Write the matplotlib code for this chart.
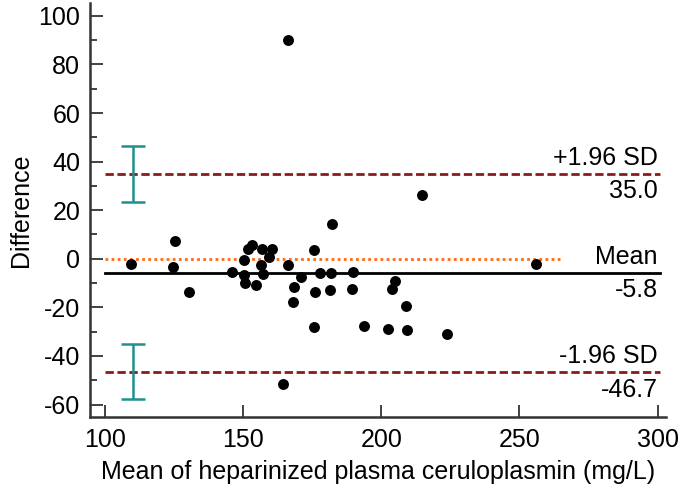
import matplotlib.pyplot as plt
import numpy as np
from matplotlib.ticker import MultipleLocator

plt.rcParams['font.family'] = ['Liberation Sans', 'DejaVu Sans']
plt.rcParams['axes.unicode_minus'] = False

# ----------------- Data -----------------
mean_vals = [109.3, 125.3, 124.7, 130.4, 146.0, 150.4, 150.4, 150.6, 151.6, 153.2,
             154.5, 156.4, 156.9, 157.1, 159.4, 160.6, 166.1, 168.6, 167.9, 170.9,
             175.8, 175.9, 175.8, 178.0, 182.1, 181.8, 181.6, 189.8, 189.3, 193.9,
             214.9, 255.9, 205.1, 204.0, 208.9, 202.5, 209.5, 223.9, 166.1, 164.5]
diff_vals = [-2.2, 7.4, -3.5, -13.6, -5.3, -0.5, -6.7, -10.1, 3.9, 5.6,
             -10.7, -2.7, 4.0, -6.3, 0.8, 3.9, -2.5, -11.6, -17.8, -7.7,
             3.6, -13.8, -28.1, -5.9, 14.4, -5.8, -12.9, -5.6, -12.6, -27.6,
             26.2, -2.3, -9.0, -12.3, -19.6, -28.7, -29.3, -31.0, 90.0, -51.7]

MEAN_DIFF = -5.8
UPPER_LOA = 35.0
LOWER_LOA = -46.7
UPPER_CI = [23.5, 46.5]
LOWER_CI = [-57.9, -35.1]
CI_X = 110

RED = '#8b1a1a'
ORANGE = '#ff6a13'
TEAL = '#1f9090'
FS = 18

fig = plt.figure(figsize=(6.85, 4.94), dpi=100)
ax = fig.add_axes([0.1314, 0.156, 0.8406, 0.838])

# limits of agreement and mean
ax.plot([100, 301], [UPPER_LOA, UPPER_LOA], color=RED, ls=(0, (3, 1.3)), lw=2)
ax.plot([100, 301], [LOWER_LOA, LOWER_LOA], color=RED, ls=(0, (3, 1.3)), lw=2)
ax.plot([100, 301], [MEAN_DIFF, MEAN_DIFF], color='black', lw=2)
ax.plot([100, 265], [0, 0], color=ORANGE, ls=(0, (1, 1.2)), lw=2)

# confidence intervals of the limits
for lo, hi in (UPPER_CI, LOWER_CI):
    ax.errorbar([CI_X], [(lo + hi) / 2], yerr=[[(hi - lo) / 2], [(hi - lo) / 2]],
                fmt='none', ecolor=TEAL, elinewidth=1.8, capsize=8.5, capthick=1.8)

ax.scatter(mean_vals, diff_vals, s=62, color='black', zorder=5, linewidths=0)

# labels on the right
def label(y, above, below):
    ax.annotate(above, (300, y), xytext=(0, 3), textcoords='offset points',
                ha='right', va='bottom', fontsize=FS)
    ax.annotate(below, (300, y), xytext=(0, -4), textcoords='offset points',
                ha='right', va='top', fontsize=FS)

label(UPPER_LOA, '+1.96 SD', f'{UPPER_LOA:.1f}')
label(MEAN_DIFF, 'Mean', f'{MEAN_DIFF:.1f}')
label(LOWER_LOA, '-1.96 SD', f'{LOWER_LOA:.1f}')

ax.set_xlim(94.6, 303)
ax.set_ylim(-65.1, 105.3)
ax.set_xticks([100, 150, 200, 250, 300])
ax.yaxis.set_major_locator(MultipleLocator(20))
ax.yaxis.set_minor_locator(MultipleLocator(10))
ax.tick_params(axis='both', which='major', direction='in', length=9, width=1.3,
               labelsize=FS, color='#333333', pad=8)
ax.tick_params(axis='y', which='minor', direction='in', length=5, width=1.3, color='#333333')
ax.tick_params(axis='y', pad=7)

for side in ('top', 'right'):
    ax.spines[side].set_visible(False)
for side in ('left', 'bottom'):
    ax.spines[side].set_linewidth(1.8)
    ax.spines[side].set_color('#333333')

ax.set_xlabel('Mean of heparinized plasma ceruloplasmin (mg/L)', fontsize=FS, labelpad=6)
ax.set_ylabel('Difference', fontsize=FS, labelpad=4)

fig.savefig('out.png', dpi=100)
